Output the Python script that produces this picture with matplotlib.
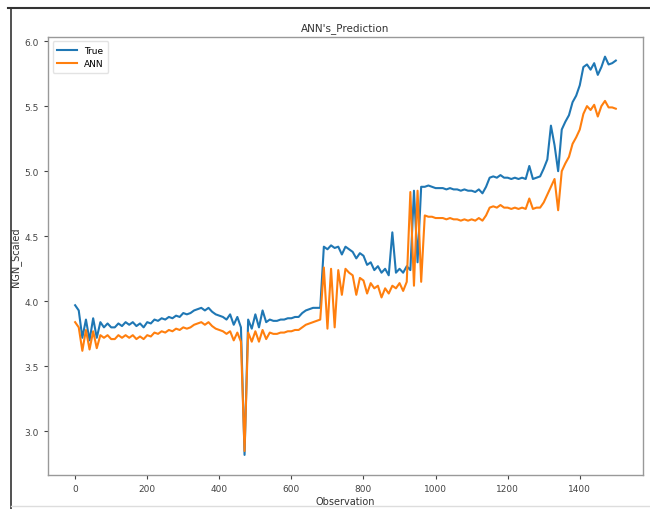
import numpy as np
import matplotlib.pyplot as plt
from matplotlib.lines import Line2D

# observation index, every 10th sample
obs = np.arange(0, 1510, 10)

true_vals = [
    3.97, 3.93, 3.72, 3.86, 3.70, 3.87, 3.72, 3.84, 3.80, 3.83,   # 0
    3.80, 3.80, 3.83, 3.81, 3.84, 3.82, 3.84, 3.81, 3.83, 3.80,   # 100
    3.84, 3.83, 3.86, 3.85, 3.87, 3.86, 3.88, 3.87, 3.89, 3.88,   # 200
    3.91, 3.90, 3.91, 3.93, 3.94, 3.95, 3.93, 3.95, 3.92, 3.90,   # 300
    3.89, 3.88, 3.86, 3.90, 3.82, 3.88, 3.80, 2.82, 3.86, 3.79,   # 400
    3.90, 3.80, 3.93, 3.84, 3.86, 3.85, 3.85, 3.86, 3.86, 3.87,   # 500
    3.87, 3.88, 3.88, 3.91, 3.93, 3.94, 3.95, 3.95, 3.95, 4.42,   # 600
    4.40, 4.43, 4.41, 4.42, 4.36, 4.42, 4.40, 4.38, 4.33, 4.37,   # 700
    4.35, 4.28, 4.30, 4.24, 4.27, 4.22, 4.25, 4.20, 4.53, 4.22,   # 800
    4.25, 4.22, 4.27, 4.24, 4.85, 4.30, 4.88, 4.88, 4.89, 4.88,   # 900
    4.87, 4.87, 4.87, 4.86, 4.87, 4.86, 4.86, 4.85, 4.86, 4.85,   # 1000
    4.85, 4.84, 4.86, 4.83, 4.88, 4.95, 4.96, 4.95, 4.97, 4.95,   # 1100
    4.95, 4.94, 4.95, 4.94, 4.95, 4.94, 5.04, 4.94, 4.95, 4.96,   # 1200
    5.02, 5.09, 5.35, 5.20, 5.00, 5.32, 5.38, 5.43, 5.53, 5.58,   # 1300
    5.66, 5.80, 5.82, 5.78, 5.83, 5.74, 5.80, 5.88, 5.82, 5.83,   # 1400
    5.85,                                                         # 1500
]

ann_vals = [
    3.84, 3.80, 3.62, 3.78, 3.63, 3.77, 3.64, 3.74, 3.72, 3.74,   # 0
    3.71, 3.71, 3.74, 3.72, 3.74, 3.72, 3.74, 3.71, 3.73, 3.71,   # 100
    3.74, 3.73, 3.76, 3.75, 3.77, 3.76, 3.78, 3.77, 3.79, 3.78,   # 200
    3.80, 3.79, 3.80, 3.82, 3.83, 3.84, 3.82, 3.84, 3.81, 3.79,   # 300
    3.78, 3.77, 3.75, 3.77, 3.70, 3.76, 3.69, 2.85, 3.76, 3.69,   # 400
    3.77, 3.69, 3.78, 3.71, 3.76, 3.75, 3.75, 3.76, 3.76, 3.77,   # 500
    3.77, 3.78, 3.78, 3.80, 3.82, 3.83, 3.84, 3.85, 3.86, 4.26,   # 600
    3.79, 4.25, 3.80, 4.24, 4.05, 4.25, 4.22, 4.20, 4.05, 4.18,   # 700
    4.16, 4.06, 4.14, 4.10, 4.12, 4.03, 4.10, 4.06, 4.12, 4.10,   # 800
    4.14, 4.08, 4.15, 4.84, 4.12, 4.85, 4.15, 4.66, 4.65, 4.65,   # 900
    4.64, 4.64, 4.64, 4.63, 4.64, 4.63, 4.63, 4.62, 4.63, 4.62,   # 1000
    4.63, 4.62, 4.64, 4.62, 4.66, 4.72, 4.73, 4.72, 4.74, 4.72,   # 1100
    4.72, 4.71, 4.72, 4.71, 4.72, 4.71, 4.79, 4.71, 4.72, 4.72,   # 1200
    4.76, 4.82, 4.88, 4.94, 4.70, 5.00, 5.06, 5.11, 5.21, 5.26,   # 1300
    5.32, 5.44, 5.50, 5.47, 5.51, 5.42, 5.50, 5.54, 5.49, 5.49,   # 1400
    5.48,                                                         # 1500
]

fig = plt.figure(figsize=(6.5, 5.1), dpi=100)
ax = fig.add_axes([0.074, 0.067, 0.915, 0.859])

ax.plot(obs, true_vals, color='#1f77b4', lw=1.5, label='True')
ax.plot(obs, ann_vals, color='#ff7f0e', lw=1.5, label='ANN')

ax.set_title("ANN's_Prediction", fontsize=7.5, pad=5, color='#333333')
ax.set_xlabel('Observation', fontsize=7, labelpad=2, color='#333333')
ax.set_ylabel('NGN_Scaled', fontsize=7, labelpad=3, color='#333333')
ax.set_yticks([3.0, 3.5, 4.0, 4.5, 5.0, 5.5, 6.0])
ax.tick_params(labelsize=6.5, colors='#444444', length=3, width=0.8)
for s in ax.spines.values():
    s.set_color('#999999')
    s.set_linewidth(1.0)

leg = ax.legend(loc='upper left', fontsize=6.5, handlelength=2.2, borderpad=0.5)
leg.get_frame().set_edgecolor('#dddddd')

# border of the page around the figure
fig.add_artist(Line2D([8/650, 1], [1 - 9/510, 1 - 9/510], color='#333333', lw=1.5, transform=fig.transFigure))
fig.add_artist(Line2D([11/650, 11/650], [0, 1 - 9/510], color='#333333', lw=1.2, transform=fig.transFigure))
fig.add_artist(Line2D([11/650, 1], [3/510, 3/510], color='#dddddd', lw=1.0, transform=fig.transFigure))

fig.savefig('out.png', dpi=100)
